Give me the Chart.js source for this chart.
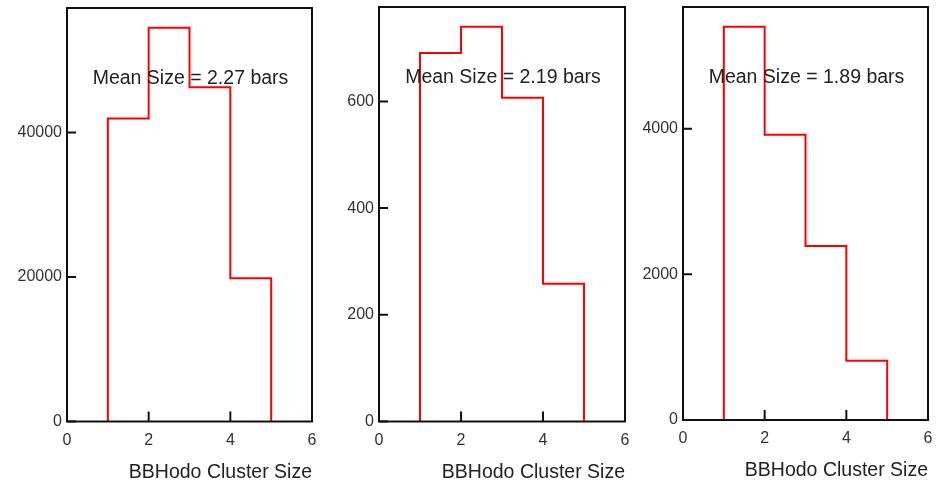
<!DOCTYPE html>
<html>
<head>
<meta charset="utf-8">
<script src="https://cdn.jsdelivr.net/npm/chart.js@4"></script>
<style>
  body { margin: 0; background: #fff; }
  #wrap { position: relative; width: 938px; height: 484px; }
  canvas { position: absolute; top: 0; }
</style>
</head>
<body>
<div id="wrap">
  <canvas id="h1" width="320" height="484" style="left:0"></canvas>
  <canvas id="h2" width="310" height="484" style="left:320px"></canvas>
  <canvas id="h3" width="308" height="484" style="left:630px"></canvas>
</div>
<script>
// cluster size bins [1,2) [2,3) [3,4) [4,5)
const binLow = [1, 2, 3, 4];
const binHigh = 5;
const counts1 = [41950, 54500, 46250, 19820];
const counts2 = [691, 740, 607, 258];
const counts3 = [5400, 3915, 2390, 812];
const meanSizes = [2.27, 2.19, 1.89];
const xTicks = [0, 2, 4, 6];
const yTicks1 = [0, 20000, 40000];
const yTicks2 = [0, 200, 400, 600];
const yTicks3 = [0, 2000, 4000];

const family = '"Liberation Sans", Arial, Helvetica, sans-serif';

// histogram outline: up at the first edge, across each bin, down at the last edge
function outline(counts) {
  const pts = [{ x: binLow[0], y: 0 }];
  counts.forEach((c, i) => pts.push({ x: binLow[i], y: c }));
  pts.push({ x: binHigh, y: 0 });
  return pts;
}

// box around the plot, ticks pointing inward, and the mean label
const framePlugin = {
  id: 'frame',
  afterDatasetsDraw(chart, args, opts) {
    const { ctx, chartArea: a, scales } = chart;
    ctx.save();
    ctx.strokeStyle = '#111';
    ctx.lineWidth = 2;
    ctx.beginPath();
    scales.x.ticks.forEach(t => {
      const px = scales.x.getPixelForValue(t.value);
      ctx.moveTo(px, a.bottom);
      ctx.lineTo(px, a.bottom - 10);
    });
    scales.y.ticks.forEach(t => {
      const py = scales.y.getPixelForValue(t.value);
      ctx.moveTo(a.left, py);
      ctx.lineTo(a.left + 9, py);
    });
    ctx.stroke();
    ctx.strokeRect(a.left, a.top, a.right - a.left, a.bottom - a.top);

    ctx.fillStyle = '#222';
    ctx.font = '19.5px ' + family;
    ctx.textAlign = 'center';
    ctx.textBaseline = 'middle';
    ctx.fillText(opts.text, (a.left + a.right) / 2 + 1, a.top + 70.5);
    ctx.restore();
  }
};

const panels = [
  { id: 'h1', counts: counts1, yTicks: yTicks1, axisW: 67, top: 8, right: 8, axisH: 62.5, titlePad: 0 },
  { id: 'h2', counts: counts2, yTicks: yTicks2, axisW: 59, top: 7, right: 5, axisH: 62.5, titlePad: 0 },
  { id: 'h3', counts: counts3, yTicks: yTicks3, axisW: 53, top: 7, right: 10, axisH: 64, titlePad: 2 }
];

panels.forEach((p, i) => {
  new Chart(document.getElementById(p.id), {
    type: 'line',
    data: {
      datasets: [{
        data: outline(p.counts),
        stepped: 'before',
        borderColor: '#ff0000',
        borderWidth: 2,
        pointRadius: 0,
        fill: false
      }]
    },
    options: {
      responsive: false,
      animation: false,
      layout: { padding: { top: p.top, right: p.right, left: 0, bottom: 0 } },
      plugins: {
        legend: { display: false },
        tooltip: { enabled: false },
        frame: { text: 'Mean Size = ' + meanSizes[i].toFixed(2) + ' bars' }
      },
      scales: {
        x: {
          type: 'linear',
          min: 0,
          max: 6,
          grid: { display: false, drawTicks: false },
          border: { display: false },
          afterBuildTicks: s => { s.ticks = xTicks.map(v => ({ value: v })); },
          afterFit: s => {
            s.height = p.axisH;
            s.paddingLeft = 0;
            s.paddingRight = 0;
          },
          ticks: {
            padding: 9,
            color: '#333',
            maxRotation: 0,
            autoSkip: false,
            font: { family, size: 16 },
            callback: v => String(v)
          },
          title: {
            display: true,
            text: 'BBHodo Cluster Size',
            align: 'end',
            color: '#222',
            font: { family, size: 19.5 },
            padding: { top: 0, bottom: p.titlePad }
          }
        },
        y: {
          min: 0,
          max: Math.max(...p.counts) * 1.05,
          grid: { display: false, drawTicks: false },
          border: { display: false },
          afterBuildTicks: s => { s.ticks = p.yTicks.map(v => ({ value: v })); },
          afterFit: s => {
            s.width = p.axisW;
            s.paddingTop = 0;
            s.paddingBottom = 0;
          },
          ticks: {
            padding: 5,
            color: '#333',
            font: { family, size: 16 },
            callback: v => String(v)
          }
        }
      }
    },
    plugins: [framePlugin]
  });
});
</script>
</body>
</html>
